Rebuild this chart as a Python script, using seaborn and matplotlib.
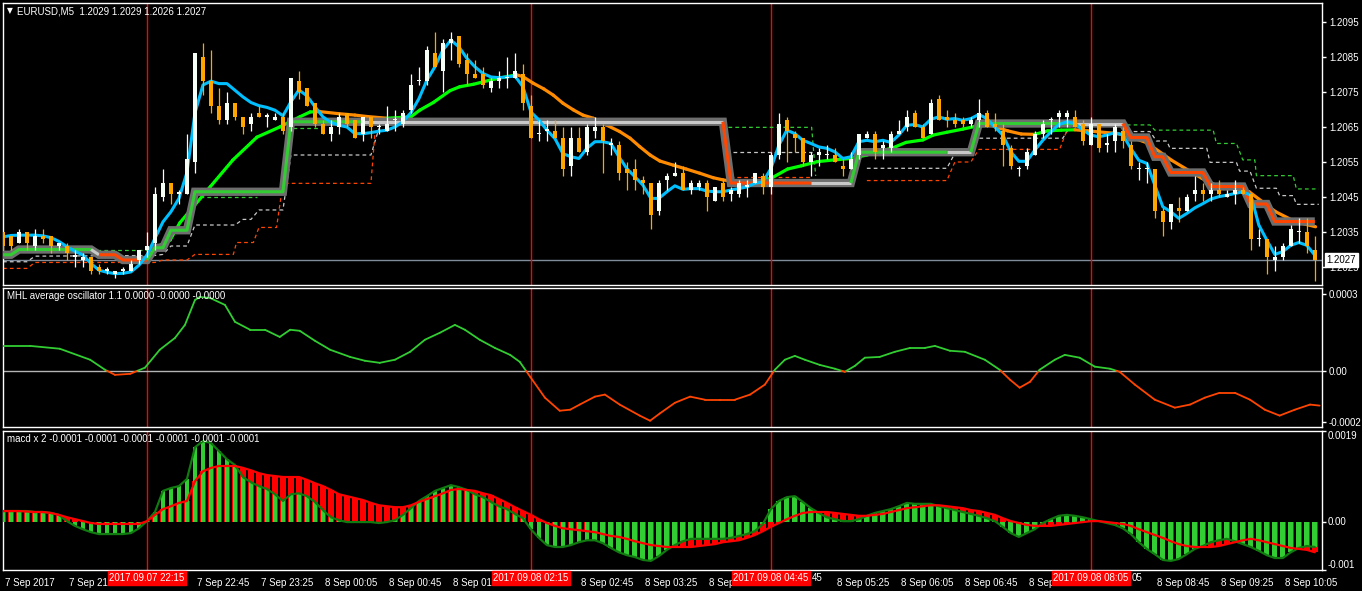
import numpy as np
import pandas as pd
import matplotlib
matplotlib.use("Agg")
import matplotlib.pyplot as plt
import matplotlib.transforms as mtransforms
import seaborn as sns

sns.set_style("dark")
plt.rcParams['font.family'] = ['Liberation Sans', 'DejaVu Sans']

# ---------------- data ----------------
BASE = 1.2000      # prices below are stored in pips above 1.2000
PIP = 0.0001

open_p = [35,34,32,35,31,34,34,31,31,28, 27,28,25,24,23,24,24,27,30,32,
          45,49,46,46,55,85,78,71,67,72, 68,66,69,68,67,68,65,78,76,72,
          66,63,65,69,67,63,68,65,64,67, 66,70,78,78,86,81,89,91,84,80,
          80,76,78,79,79,80,71,63,64,64, 62,54,62,58,64,65,60,60,53,53,
          50,49,41,50,51,52,47,48,49,44, 49,46,46,48,49,51,48,57,67,63,
          62,55,57,57,57,54,53,57,62,63, 59,59,63,65,69,65,63,73,68,67,
          67,66,67,69,66,64,59,53,54,57, 63,67,68,68,68,66,60,66,60,61,
          64,60,53,53,53,41,38,42,41,46, 47,46,47,45,46,47,46,33,33,27,
          28,31,35,35,30]
high_p = [35,34,36,35,36,36,34,32,32,30, 29,28,26,25,24,25,27,30,35,48,
          53,49,47,63,86,89,87,76,75,72, 68,69,71,69,69,69,79,81,76,72,
          67,67,69,69,67,68,68,66,71,70, 70,80,82,88,92,90,92,91,86,84,
          82,79,81,85,86,83,74,67,67,67, 65,65,65,66,68,66,62,61,55,56,
          51,49,50,52,55,54,50,50,50,48, 50,48,50,50,52,52,58,69,68,64,
          62,58,59,60,59,56,58,63,64,64, 61,64,67,70,70,66,73,74,70,69,
          68,68,73,70,69,66,60,54,59,64, 67,68,70,70,70,67,68,66,63,66,
          65,61,55,55,53,42,43,45,46,51, 49,49,50,47,50,48,46,36,33,31,
          32,37,39,39,34]
low_p = [30,30,32,30,30,32,29,30,27,25, 25,23,23,23,22,23,24,26,28,30,
         44,43,43,46,52,74,69,66,66,67, 63,64,68,65,67,63,64,73,71,65,
         63,61,63,65,62,61,62,63,64,64, 65,69,77,77,82,75,84,82,77,79,
         76,75,76,76,79,70,62,61,61,62, 51,51,58,57,62,52,57,50,47,47,
         46,36,40,47,51,47,46,47,41,44, 44,44,45,45,49,46,46,56,55,58,
         54,51,54,56,55,51,53,56,62,56, 56,58,63,64,65,62,63,67,65,65,
         65,65,65,65,64,54,53,51,53,57, 62,63,65,65,65,60,60,58,58,58,
         59,53,50,49,39,34,36,38,41,44, 44,44,45,45,43,46,30,31,23,24,
         27,31,32,29,21]
close_p = [31,31,35,32,34,33,31,32,29,28, 28,24,24,24,24,24,26,30,31,46,
           49,46,46,56,86,78,71,67,72,68, 65,68,68,68,68,64,79,75,71,66,
           63,65,68,66,62,68,65,65,66,67, 69,77,78,87,82,89,90,83,80,79,
           77,78,79,79,81,72,62,63,64,62, 53,62,58,65,65,61,60,52,52,50,
           49,40,49,51,52,47,49,49,45,48, 45,47,49,48,52,48,57,66,64,62,
           55,57,58,57,55,53,56,63,63,58, 60,63,64,68,65,62,72,67,67,66,
           66,67,69,65,65,60,54,53,58,63, 66,67,69,69,65,61,66,59,60,65,
           61,54,53,53,41,38,43,41,45,47, 46,47,46,46,47,46,33,33,28,28,
           31,36,35,31,27]

# fast moving average (light blue), one value per bar, pips
fast_ma = [33.6,34.0,34.1,34.1,34.1,33.9,33.4,32.3,30.8,29.5,
           28.4,26.0,24.1,23.5,23.1,23.2,23.6,25.5,28.4,33.2,
           37.9,40.8,44.6,52.0,69.0,77.0,78.1,77.4,77.4,75.5,
           73.6,72.0,71.1,70.6,69.8,68.2,72.2,75.6,73.9,70.8,
           67.9,66.3,65.5,65.0,63.1,63.1,63.4,63.8,64.1,65.0,
           66.5,69.1,73.1,78.4,82.2,87.0,89.8,87.9,84.6,82.2,
           80.3,79.3,79.1,79.3,79.6,76.5,69.3,67.0,64.1,61.7,
           57.4,56.5,56.0,58.9,60.8,60.8,60.3,56.5,53.1,50.8,
           48.4,44.6,44.6,46.5,48.2,47.2,47.4,47.4,46.7,46.5,
           46.5,47.0,47.4,47.9,48.9,49.3,53.1,59.8,64.1,63.1,
           61.2,60.3,59.3,58.9,57.9,56.0,56.5,60.8,61.2,60.8,
           61.2,60.6,62.7,65.5,65.7,65.0,67.2,67.9,67.2,67.4,
           66.9,67.4,68.6,67.4,65.0,62.7,57.9,55.2,55.2,58.4,
           61.2,63.6,65.7,66.5,66.0,64.1,62.7,62.2,62.7,63.4,
           62.7,58.9,55.5,54.6,48.4,42.2,40.8,38.9,40.3,41.9,
           43.1,44.4,45.1,45.5,46.0,46.5,45.5,37.0,32.7,28.6,
           29.4,31.2,32.0,31.2,28.4]

# slow moving average (green rising / orange falling), read points
slow_bar = [19,20.9,22.1,25.9,28.75,31.75,34.6,37.1,38.4,39.6,
            42,44,45.5,48,51,52.1,53.8,55.9,57.1,58.8,
            60.9,63,64.2,65,66.3,67.6,68.8,70,71.3,72.5,
            73.8,75.4,77.1,78.4,79.6,80.9,82.1,83.8,85.4,87.1,
            88.8,90,92,94,96,98.1,99.8,101.8,103.9,106,
            108,110,111.3,112.9,115,116.3,118,120,121.8,123.5,
            125.6,127.3,129,130.6,132.3,134,135.6,139,140.3,143,
            146.1,149.9,151.6,155.8,159.1,161.6,164.1]
slow_pip = [30.5,32.7,37.6,47.9,55.6,62.1,65.0,67.9,69.3,69.4,
            68.8,68.4,68.0,67.5,67.9,69.8,72.0,75.4,76.5,77.2,
            78.4,79.4,79.9,79.4,77.5,75.9,74.1,71.8,69.9,68.4,
            67.5,65.6,63.7,61.8,59.4,57.0,55.3,54.1,53.0,51.8,
            50.5,49.9,49.2,49.0,50.3,53.0,53.9,55.1,55.6,56.0,
            57.0,58.3,59.1,60.6,61.3,62.7,63.5,64.4,65.3,65.5,
            63.9,63.0,62.9,63.9,64.1,64.2,63.9,63.2,62.7,60.5,
            55.5,50.3,48.4,46.5,40.8,37.9,36.5]

# MHL step line: bar where a new level starts, and the level (pips)
mhl_start = [0, 2, 12, 15, 19, 21, 24, 36, 91, 107, 122, 141, 144, 146, 151, 156, 159]
mhl_level = [28.5, 30, 28.5, 27, 30.5, 35.5, 46.5, 66.5, 49, 57.8, 66, 62, 56.5, 52, 48, 43, 38]
# state of the inner line: bar where it starts and the state
mhl_state_start = [0, 11, 12, 18, 45, 90, 101, 106, 118, 121, 134, 140]
mhl_state = ['up', 'flat', 'down', 'up', 'flat', 'down', 'flat', 'up', 'flat', 'up', 'flat', 'down']

# dotted band lines, pieces of (bar, pips)
band_green = [
    [(11.7, 30.0), (18.0, 30.0)],
    [(24.6, 45.1), (31.7, 45.1)],
    [(36.3, 64.6), (40.0, 64.6)],
    [(90.7, 64.9), (101.1, 64.9), (101.6, 51.0)],
    [(140.5, 65.6), (143.4, 65.6), (144.0, 64.1), (151.3, 64.1), (151.7, 60.3), (154.2, 60.3),
     (155.0, 55.6), (156.5, 55.6), (156.7, 51.1), (161.3, 51.1), (161.7, 47.3), (164.5, 47.3)],
]
band_gray = [
    [(0, 26.5), (3, 26.5), (4, 28.1), (19, 28.3), (20, 28.6), (21, 31.0), (23, 31.0), (24, 37.0),
     (29, 37.0), (30, 38.6), (31, 38.6), (32, 41.3), (35, 41.3), (36, 57.0), (46, 57.0), (47, 64.6)],
    [(91.3, 57.8), (101.1, 57.8)],
    [(108, 53.2), (118, 53.2), (119, 57.5), (121, 57.5), (122, 61.8), (132.5, 61.8), (133.5, 65.5)],
    [(140.5, 63.7), (143.4, 63.7), (144.2, 61.0), (145.5, 61.0), (145.9, 58.9), (150.5, 58.9),
     (150.9, 54.9), (154.2, 54.9), (154.6, 52.4), (155.9, 52.4), (156.7, 47.5), (159.2, 47.5),
     (159.6, 45.4), (161.3, 45.4), (161.7, 42.9), (164.5, 42.9)],
]
band_red = [
    [(0, 24.6), (3, 24.6), (4, 26.3), (19, 26.3), (20, 27.0), (23, 27.0), (24, 28.6), (28.8, 28.6),
     (29.2, 32.0), (31.3, 32.0), (32, 36.3), (34.2, 36.3), (35, 48.9), (46, 48.9), (46.5, 63.2)],
    [(90.9, 50.6), (101.1, 50.6)],
    [(108, 49.7), (118, 49.7), (119, 55.0), (121, 55.0), (122, 58.6), (132.1, 58.6), (133, 64.0)],
]

# MHL average oscillator (units of 0.0001), read points
osc_bar = [-0.4,3.4,7.1,10.9,12.75,14,15.9,17.75,19.6,21.5,22.75,24,24.6,25.9,27.75,29,30.9,32.75,
           34.6,35.9,37.1,39,40.9,43.4,45.25,47.1,49,50.9,52.75,54.6,56.5,57.75,59.6,61.5,63.4,64.6,
           65.9,67.75,69.6,70.9,72.1,74,75.25,77.1,79.6,80.9,82.1,84,85.9,87.75,89.6,91.5,93.4,95.25,
           96.5,97.75,99,100.25,102.1,104,105.25,106.5,107.75,109.6,111.5,113.4,115.25,116.5,118.4,
           120.25,122.75,124.6,125.9,127.1,128.4,129.6,131.5,132.75,134.6,136.5,138.4,139.6,141.5,
           144,146.5,148.4,150.25,152.1,154,155.9,157.75,159.6,161.5,163.4,164.6]
osc_val = [0.97,0.97,0.86,0.43,0.04,-0.16,-0.12,0.12,0.82,1.28,1.79,2.76,2.88,2.84,2.57,1.91,1.60,1.60,
           1.32,1.60,1.56,1.17,0.82,0.54,0.39,0.31,0.43,0.74,1.21,1.48,1.79,1.60,1.21,0.89,0.62,0.35,
           -0.23,-1.05,-1.56,-1.52,-1.32,-1.01,-0.93,-1.32,-1.75,-1.95,-1.67,-1.25,-1.01,-1.13,-1.13,
           -1.13,-0.93,-0.54,0.04,0.43,0.58,0.43,0.23,0.08,-0.04,0.19,0.51,0.54,0.74,0.89,0.89,0.97,
           0.78,0.74,0.43,0.04,-0.35,-0.66,-0.43,0.04,0.43,0.62,0.51,0.16,0.08,-0.04,-0.54,-1.13,
           -1.44,-1.32,-1.05,-0.86,-0.86,-1.13,-1.52,-1.75,-1.52,-1.32,-1.36]

# MACD x2 (units of 0.0001), one value per bar
macd_main = [2.3,2.3,2.3,2.3,2.1,2.1,1.9,1.5,0.2,-0.8, -1.5,-2.1,-2.5,-2.5,-2.5,-2.5,-2.3,-1.3,0.2,2.1,
             6.5,7.1,7.5,9.0,15.6,16.9,16.5,14.8,13.1,11.9, 9.4,8.3,7.5,6.9,5.8,4.4,5.8,6.0,5.4,4.2,
             2.5,1.0,0.4,0.0,0.0,0.0,0.0,-0.2,0.0,0.4, 1.5,2.9,4.4,5.4,6.5,7.1,7.7,7.3,6.7,5.8,
             5.2,4.2,3.3,2.7,1.7,0.8,-1.5,-3.3,-4.8,-5.2, -5.2,-4.8,-4.2,-3.8,-3.8,-4.4,-5.4,-6.3,-6.9,-7.3,
             -7.9,-8.1,-7.1,-5.8,-4.8,-4.0,-3.5,-3.5,-3.5,-3.5, -3.5,-3.3,-2.9,-2.5,-1.9,-0.4,2.7,4.4,5.2,5.4,
             4.2,2.9,1.9,1.0,0.6,0.2,0.2,0.6,1.3,1.9, 2.3,2.7,3.3,4.0,3.8,3.8,3.8,3.3,2.9,2.5,
             2.1,1.7,1.3,0.8,0.2,-1.0,-2.3,-3.1,-2.3,-1.5, -0.2,0.6,1.3,1.5,1.3,1.0,0.6,0.2,-0.2,-0.6,
             -1.3,-2.5,-4.2,-5.6,-6.7,-7.9,-8.1,-7.7,-6.7,-5.6, -5.0,-4.2,-3.8,-3.5,-4.0,-4.6,-5.2,-6.0,-6.9,-7.5,
             -7.5,-6.3,-5.4,-5.0,-5.2]
macd_signal = [2.3,2.3,2.3,2.2,2.1,2.1,1.9,1.5,1.0,0.6, 0.2,-0.2,-0.4,-0.4,-0.4,-0.4,-0.4,-0.4,0.2,1.5,
               2.7,3.3,4.0,4.4,8.5,10.6,11.3,11.7,11.7,11.7, 11.3,10.8,10.2,9.8,9.6,9.4,9.4,9.4,8.8,8.1,
               7.5,6.7,5.8,5.4,5.0,4.6,4.0,3.5,3.3,3.1, 3.1,3.5,4.2,4.8,5.4,6.0,6.7,6.9,6.7,6.5,
               6.0,5.6,4.8,4.0,3.1,2.3,1.5,0.6,-0.2,-0.8, -1.3,-1.5,-1.7,-1.9,-2.1,-2.5,-2.9,-3.1,-3.5,-4.0,
               -4.4,-4.8,-5.0,-5.2,-5.2,-5.2,-5.2,-5.0,-4.8,-4.6, -4.2,-4.0,-3.8,-3.3,-2.7,-1.9,-1.0,-0.2,0.6,1.3,
               1.9,2.1,2.1,2.1,1.9,1.7,1.5,1.3,1.3,1.5, 1.7,2.1,2.5,2.9,3.1,3.3,3.5,3.5,3.3,3.1,
               2.9,2.5,2.3,1.9,1.5,0.8,0.2,-0.2,-0.6,-0.8, -0.8,-0.8,-0.6,-0.4,-0.2,0.0,0.2,0.2,0.0,-0.2,
               -0.4,-0.8,-1.5,-2.1,-2.7,-3.3,-4.0,-4.6,-5.0,-5.2, -5.2,-5.2,-5.0,-4.6,-4.2,-3.8,-3.5,-3.8,-4.2,-4.6,
               -5.0,-5.4,-5.6,-5.8,-6.3]

time_tick_bars = list(range(0, 161, 8))
time_tick_labels = ["7 Sep 2017", "7 Sep 21:25", "7 Sep 22:05", "7 Sep 22:45", "7 Sep 23:25",
                    "8 Sep 00:05", "8 Sep 00:45", "8 Sep 01:25", "8 Sep 02:05", "8 Sep 02:45",
                    "8 Sep 03:25", "8 Sep 04:05", "8 Sep 04:45", "8 Sep 05:25", "8 Sep 06:05",
                    "8 Sep 06:45", "8 Sep 07:25", "8 Sep 08:05", "8 Sep 08:45", "8 Sep 09:25",
                    "8 Sep 10:05"]
# parts of the time labels that stay visible next to the red marker boxes
label_head_visible = {8: "7 Sep 21:", 16: "", 56: "8 Sep 01:", 64: "", 88: "8 Sep", 96: "",
                      128: "8 Sep", 136: ""}
label_tail_visible = {96: "45", 136: "05"}
marker_bars = [18, 66, 96, 136]
marker_labels = ["2017.09.07 22:15", "2017.09.08 02:15", "2017.09.08 04:45", "2017.09.08 08:05"]

price_ticks = [1.2025, 1.2035, 1.2045, 1.2055, 1.2065, 1.2075, 1.2085, 1.2095]
last_price = 1.2027
title_main = "EURUSD,M5  1.2029 1.2029 1.2026 1.2027"
title_osc = "MHL average oscillator 1.1 0.0000 -0.0000 -0.0000"
title_macd = "macd x 2 -0.0001 -0.0001 -0.0001 -0.0001 -0.0001 -0.0001"

# ---------------- derived frames ----------------
n = len(open_p)
bars = np.arange(n)
df = pd.DataFrame({"bar": bars,
                   "open": BASE + np.array(open_p) * PIP,
                   "high": BASE + np.array(high_p) * PIP,
                   "low": BASE + np.array(low_p) * PIP,
                   "close": BASE + np.array(close_p) * PIP,
                   "fast": BASE + np.array(fast_ma) * PIP,
                   "macd": np.array(macd_main) * 1e-4,
                   "signal": np.array(macd_signal) * 1e-4})
mhl = pd.Series(np.nan, index=bars)
for s, lv in zip(mhl_start, mhl_level):
    mhl[s] = BASE + lv * PIP
mhl = mhl.ffill()

# ---------------- figure layout ----------------
W, H = 1362, 591
fig = plt.figure(figsize=(W / 100, H / 100), dpi=100, facecolor='black')


def rect(l, t, r, b):
    return [l / W, 1 - b / H, (r - l) / W, (b - t) / H]


ax1 = fig.add_axes(rect(2.5, 2.5, 1322, 285))
ax2 = fig.add_axes(rect(2.5, 288, 1322, 427))
ax3 = fig.add_axes(rect(2.5, 431, 1322, 570))
XMIN, XMAX = -0.06, 164.9
FS = 7
for ax in (ax1, ax2, ax3):
    ax.set_facecolor('black')
    ax.grid(False)
    for s in ax.spines.values():
        s.set_color('white')
        s.set_linewidth(1)
    ax.set_xlim(XMIN, XMAX)
    ax.yaxis.tick_right()
    ax.tick_params(axis='y', colors='white', direction='out', length=3, width=1,
                   labelsize=FS, pad=2, labelcolor='white')
    ax.set_xlabel('')
    ax.set_ylabel('')
    for b in marker_bars:
        ax.axvline(b, color='#FF0000', lw=1, zorder=1.2)
for ax in (ax1, ax2):
    ax.set_xticks([])

# ---------------- main price panel ----------------
ax1.set_ylim(1.201986, 1.210057)
ax1.set_yticks(price_ticks)
ax1.set_yticklabels([f"{p:.4f}" for p in price_ticks])
ax1.axhline(last_price, color='#7F8C9A', lw=1, zorder=1.1)

dash_colors = [(band_green, '#32CD32'), (band_gray, '#C8C8C8'), (band_red, '#FF4500')]
for pieces, col in dash_colors:
    for piece in pieces:
        xs = [p[0] for p in piece]
        ys = [BASE + p[1] * PIP for p in piece]
        ax1.plot(xs, ys, color=col, lw=0.9, ls=(0, (3, 2.5)), zorder=2)

# slow MA coloured by direction
for k in range(len(slow_bar) - 1):
    y0 = BASE + slow_pip[k] * PIP
    y1 = BASE + slow_pip[k + 1] * PIP
    col = '#00FF00' if y1 >= y0 else '#FF8C00'
    ax1.plot([slow_bar[k], slow_bar[k + 1]], [y0, y1], color=col, lw=2.3,
             solid_capstyle='round', zorder=3)

# MHL step band
ax1.plot(bars, mhl.values, color='#6E6E6E', lw=6.0, solid_joinstyle='miter',
         solid_capstyle='butt', zorder=4)
state_col = {'up': '#32CD32', 'down': '#FF4500', 'flat': '#C8C8C8'}
ends = mhl_state_start[1:] + [n - 1]
for s, e, st in zip(mhl_state_start, ends, mhl_state):
    ax1.plot(bars[s:e + 1], mhl.values[s:e + 1], color=state_col[st], lw=2.2,
             solid_capstyle='butt', zorder=4.5)

# fast MA
sns.lineplot(data=df, x="bar", y="fast", ax=ax1, color='#00BFFF', lw=2.2,
             legend=False, zorder=5, sort=False)

# candles
up = df["close"] >= df["open"]
body_lo = np.minimum(df["open"], df["close"])
body_h = np.maximum((df["close"] - df["open"]).abs(), 0.00003)
wick_cols = np.where(up, '#F5FFF5', '#FFA500')
ax1.vlines(df["bar"], df["low"], df["high"], colors=wick_cols, lw=0.9, zorder=6)
ax1.bar(df["bar"], body_h, bottom=body_lo, width=0.56,
        color=wick_cols, linewidth=0, zorder=7)
ax1.set_xlim(XMIN, XMAX)
ax1.set_xlabel('')
ax1.set_ylabel('')

# current price label
ax1.text(1.0035, last_price, f"{last_price:.4f}",
         transform=mtransforms.blended_transform_factory(ax1.transAxes, ax1.transData),
         ha='left', va='center', fontsize=FS, color='black', clip_on=False, zorder=10,
         bbox=dict(facecolor='white', edgecolor='white', pad=1.2))

# ---------------- oscillator panel ----------------
ax2.set_ylim(-0.0002195, 0.000323)
ax2.set_yticks([0.0003, 0.0, -0.0002])
ax2.set_yticklabels(['0.0003', '0.00', '-0.0002'])
ax2.axhline(0, color='#B4B4B4', lw=1, zorder=1.5)
for k in range(len(osc_bar) - 1):
    x0, x1 = osc_bar[k], osc_bar[k + 1]
    v0, v1 = osc_val[k] * 1e-4, osc_val[k + 1] * 1e-4
    if v0 * v1 < 0:
        xc = x0 + (x1 - x0) * v0 / (v0 - v1)
        ax2.plot([x0, xc], [v0, 0], color='#32CD32' if v0 > 0 else '#FF4500', lw=1.3, zorder=3)
        ax2.plot([xc, x1], [0, v1], color='#32CD32' if v1 > 0 else '#FF4500', lw=1.3, zorder=3)
    else:
        col = '#32CD32' if (v0 + v1) >= 0 else '#FF4500'
        ax2.plot([x0, x1], [v0, v1], color=col, lw=1.3, zorder=3)
ax2.set_xlim(XMIN, XMAX)

# ---------------- MACD panel ----------------
ax3.set_ylim(-0.001, 0.0019)
ax3.bar(df["bar"], df["signal"], width=0.8, color='#FF0000', linewidth=0, zorder=2)
ax3.bar(df["bar"], df["macd"], width=0.6, color='#32CD32', linewidth=0, zorder=3)
sns.lineplot(data=df, x="bar", y="macd", ax=ax3, color='#117A11', lw=1.6, legend=False, zorder=4)
sns.lineplot(data=df, x="bar", y="signal", ax=ax3, color='#FF0000', lw=1.6, legend=False, zorder=5)
ax3.set_xlim(XMIN, XMAX)
ax3.set_xlabel('')
ax3.set_ylabel('')
ax3.set_yticks([0.0019, 0.0, -0.001])
ax3.set_yticklabels(['', '', ''])
bt = mtransforms.blended_transform_factory(ax3.transAxes, ax3.transData)
for val, lab, va in [(0.0019, '0.0019', 'top'), (0.0, '0.00', 'center'), (-0.001, '-0.001', 'bottom')]:
    ax3.text(1.004, val, lab, transform=bt, ha='left', va=va, fontsize=FS, color='white', clip_on=False)

# time axis
shown_labels = [label_head_visible.get(b, lab) for b, lab in zip(time_tick_bars, time_tick_labels)]
ax3.set_xticks(time_tick_bars)
ax3.set_xticklabels(shown_labels, ha='left')
ax3.tick_params(axis='x', colors='white', direction='out', length=4, width=1,
                labelsize=FS, pad=2, labelcolor='white')
offset = mtransforms.ScaledTranslation(2 / 100, 0, fig.dpi_scale_trans)
for lbl in ax3.get_xticklabels():
    lbl.set_transform(lbl.get_transform() + offset)

tb = mtransforms.blended_transform_factory(ax3.transData, ax3.transAxes)
fig.canvas.draw()
renderer = fig.canvas.get_renderer()
box_right = {}
for b, lab in zip(marker_bars, marker_labels):
    t = ax3.text(b, -8 / 139, lab, transform=tb, ha='center', va='center', fontsize=FS,
                 color='white', clip_on=False, zorder=20,
                 bbox=dict(facecolor='#FF0000', edgecolor='#FF0000', pad=1.2))
    fig.canvas.draw()
    ext = t.get_bbox_patch().get_window_extent(renderer)
    box_right[b] = ext.x1
# visible tails of the labels that are mostly hidden by a marker box
for b, tail in label_tail_visible.items():
    xpix = box_right[b] + 2
    xdata = ax3.transData.inverted().transform((xpix, 0))[0]
    ax3.text(xdata, -8 / 139, tail, transform=tb, ha='left', va='center', fontsize=FS,
             color='white', clip_on=False)

# ---------------- titles ----------------
fig.text(7 / W, 1 - 11 / H, "\u25BC", fontsize=5.5, color='white', va='center', ha='left',
         family=['DejaVu Sans'])
fig.text(17 / W, 1 - 11 / H, title_main, fontsize=FS, color='white', va='center', ha='left')
fig.text(7 / W, 1 - 296 / H, title_osc, fontsize=FS, color='white', va='center', ha='left')
fig.text(7 / W, 1 - 439 / H, title_macd, fontsize=FS, color='white', va='center', ha='left')

fig.savefig("out.png", dpi=100, facecolor='black')
